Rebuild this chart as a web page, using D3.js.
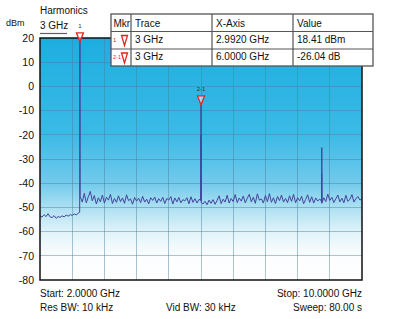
<!DOCTYPE html>
<html lang="en">
<meta charset="utf-8">
<style>
body {
  margin: 0;
  background: #fff;
  font-family: 'Liberation Sans', Arial, sans-serif;
}
.grid line {
  stroke: #4a7c98;
  stroke-opacity: 0.45;
  shape-rendering: crispEdges;
}
.lbl {
  font-size: 10px;
  fill: #111;
}
.tbl text {
  font-size: 10px;
  fill: #111;
}
</style>
<body>
<div id="chart"></div>
<script src="https://d3js.org/d3.v7.min.js"></script>
<script>

// sweep settings (GHz)
var startGHz = 2.0,
    stopGHz = 10.0,
    stepGHz = 0.05;

var yTicks = [20, 10, 0, -10, -20, -30, -40, -50, -60, -70, -80];

// noise floor, one value per 0.05 GHz from 2.00 GHz
var noise = [
  -53.5,-54.0,-53.0,-53.8,-52.6,-53.9,-54.2,-53.4,-54.5,-53.8,-54.1,-53.5,-53.9,-53.2,-53.6,-53.0,-53.3,-52.7,-53.1,-52.4,
  -45.5,-47.8,-44.2,-48.1,-45.6,-43.4,-47.3,-45.1,-48.6,-46.0,-47.7,-44.9,-48.2,-45.8,-47.0,-44.6,-48.4,-46.3,-47.9,-45.2,
  -47.6,-46.1,-48.3,-44.8,-47.2,-46.5,-48.7,-45.9,-47.4,-46.2,-48.0,-45.4,-47.8,-46.6,-48.5,-46.0,-47.1,-45.7,-48.2,-46.4,
  -47.5,-45.8,-48.4,-46.3,-47.0,-45.5,-48.6,-46.1,-47.7,-45.9,-48.1,-46.8,-47.3,-46.0,-48.5,-45.6,-47.9,-46.4,-48.2,-46.7,
  -47.2,-48.6,-47.5,-48.9,-47.0,-48.3,-46.8,-48.7,-47.1,-45.2,-48.4,-46.6,-47.8,-45.0,-48.2,-46.3,-47.6,-44.7,-48.0,-46.1,
  -47.4,-45.3,-48.1,-46.2,-44.6,-47.7,-45.8,-48.3,-44.4,-47.0,-46.5,-48.2,-45.1,-47.6,-44.3,-47.9,-46.0,-48.4,-45.5,-47.2,
  -44.9,-47.8,-46.3,-48.0,-45.2,-47.5,-44.6,-48.1,-46.0,-47.3,-45.4,-48.5,-46.7,-44.8,-47.9,-45.6,-48.2,-46.1,-47.4,-46.5,
  -48.3,-46.0,-47.6,-44.5,-47.1,-45.8,-48.0,-46.4,-44.9,-47.7,-46.2,-48.1,-45.0,-47.5,-46.6,-44.7,-47.8,-46.3,-45.5,-47.0,
  -46.2
];

// harmonic spikes [GHz, dBm]
var peakPoints = [
  [2.986, -52.0], [2.990, -12.0], [2.992, 18.41], [2.995, -14.0], [2.998, -45.0],
  [5.994, -47.0], [5.998, -20.0], [6.000, -7.63], [6.003, -22.0], [6.006, -48.0],
  [8.994, -47.5], [8.998, -36.0], [9.000, -25.3], [9.003, -38.0], [9.006, -48.0]
];

// marker table
var tableHead = ["Mkr", "Trace", "X-Axis", "Value"];
var tableRows = [
  ["1", "3 GHz", "2.9920 GHz", "18.41 dBm"],
  ["2-1", "3 GHz", "6.0000 GHz", "-26.04 dB"]
];
var markers = [
  {label: "1", f: 2.992, db: 18.41},
  {label: "2-1", f: 6.000, db: -7.63}
];

var width = 400,
    height = 319;

var x = d3.scaleLinear().domain([startGHz, stopGHz]).range([40, 362]);
var y = d3.scaleLinear().domain([-80, 20]).range([280, 38]);

var svg = d3.select("#chart").append("svg")
    .attr("width", width)
    .attr("height", height);

// background gradient
var grad = svg.append("defs").append("linearGradient")
    .attr("id", "bg")
    .attr("x1", 0).attr("y1", 0).attr("x2", 0).attr("y2", 1);
[[0, "#1caee0"], [0.4, "#3cbae6"], [0.6, "#72caec"], [0.7, "#ace0f2"], [0.8, "#e0f3f9"], [0.9, "#fbfdfe"], [1, "#ffffff"]]
  .forEach(function(s) {
    grad.append("stop").attr("offset", s[0]).attr("stop-color", s[1]);
  });

svg.append("rect")
    .attr("x", x(startGHz)).attr("y", y(20))
    .attr("width", x(stopGHz) - x(startGHz))
    .attr("height", y(-80) - y(20))
    .attr("fill", "url(#bg)");

// grid
var grid = svg.append("g").attr("class", "grid");
grid.selectAll(".v")
    .data(d3.range(1, 10))
  .enter().append("line")
    .attr("x1", function(d) { return x(startGHz + d * 0.8); })
    .attr("x2", function(d) { return x(startGHz + d * 0.8); })
    .attr("y1", y(20)).attr("y2", y(-80));
grid.selectAll(".h")
    .data(yTicks.slice(1, -1))
  .enter().append("line")
    .attr("x1", x(startGHz)).attr("x2", x(stopGHz))
    .attr("y1", function(d) { return y(d); })
    .attr("y2", function(d) { return y(d); });

// trace
var trace = noise.map(function(v, i) { return [startGHz + i * stepGHz, v]; })
    .concat(peakPoints)
    .sort(function(a, b) { return a[0] - b[0]; });

svg.append("path")
    .datum(trace)
    .attr("fill", "none")
    .attr("stroke", "#44449a")
    .attr("stroke-width", 1)
    .attr("stroke-linejoin", "round")
    .attr("d", d3.line()
      .x(function(d) { return x(d[0]); })
      .y(function(d) { return y(d[1]); }));

// frame
svg.append("rect")
    .attr("x", x(startGHz)).attr("y", y(20))
    .attr("width", x(stopGHz) - x(startGHz))
    .attr("height", y(-80) - y(20))
    .attr("fill", "none")
    .attr("stroke", "#111")
    .attr("stroke-width", 1.5);

// y labels
svg.append("g").selectAll("text")
    .data(yTicks)
  .enter().append("text")
    .attr("class", "lbl")
    .attr("x", 34)
    .attr("y", function(d) { return y(d); })
    .attr("dy", "0.36em")
    .attr("text-anchor", "end")
    .style("font-size", "10.5px")
    .text(function(d) { return d; });

svg.append("text").attr("class", "lbl").attr("x", 6).attr("y", 26).style("font-size", "9px").text("dBm");
svg.append("text").attr("class", "lbl").attr("x", 40).attr("y", 14).text("Harmonics");
svg.append("text").attr("class", "lbl").attr("x", 40).attr("y", 29).text("3 GHz");
svg.append("line")
    .attr("x1", 40).attr("x2", 67).attr("y1", 33.5).attr("y2", 33.5)
    .attr("stroke", "#5a58a6").attr("stroke-width", 1.2);

// markers on the trace
var mk = svg.append("g").selectAll("g")
    .data(markers)
  .enter().append("g")
    .attr("transform", function(d) { return "translate(" + x(d.f) + "," + y(d.db) + ")"; });
mk.append("path")
    .attr("d", "M0,0 L-3.5,-9 L3.5,-9 Z")
    .attr("fill", "#fff").attr("fill-opacity", 0.55)
    .attr("stroke", "#e8231d").attr("stroke-width", 1.3);
mk.append("text")
    .attr("y", -14)
    .attr("text-anchor", "middle")
    .style("font-size", "6px")
    .style("fill", "#333")
    .text(function(d) { return d.label; });

// marker table
var colX = [111, 131, 212, 293, 373],
    rowY = [14, 31.5, 49, 66],
    rowBase = [26.6, 43.3, 60];
var tbl = svg.append("g").attr("class", "tbl");
tbl.append("rect")
    .attr("x", colX[0]).attr("y", rowY[0])
    .attr("width", colX[4] - colX[0]).attr("height", rowY[3] - rowY[0])
    .attr("fill", "#fff").attr("stroke", "#555").attr("stroke-width", 1.3);
colX.slice(1, 4).forEach(function(cx) {
  tbl.append("line").attr("x1", cx).attr("x2", cx).attr("y1", rowY[0]).attr("y2", rowY[3])
    .attr("stroke", "#555").attr("stroke-width", 1.2);
});
rowY.slice(1, 3).forEach(function(ry) {
  tbl.append("line").attr("x1", colX[0]).attr("x2", colX[4]).attr("y1", ry).attr("y2", ry)
    .attr("stroke", "#555").attr("stroke-width", 1.2);
});
tableHead.forEach(function(h, i) {
  tbl.append("text").attr("x", colX[i] + (i ? 4 : 2.5)).attr("y", rowBase[0]).text(h);
});
tableRows.forEach(function(r, j) {
  var ty = rowBase[j + 1];
  tbl.append("text").attr("x", colX[0] + 2).attr("y", ty - 1)
    .style("font-size", r[0].length > 1 ? "5.5px" : "6px").style("fill", "#e8231d").text(r[0]);
  var tx = colX[0] + 13.5, ty0 = rowY[j + 1] + 4;
  tbl.append("path")
    .attr("d", "M" + tx + "," + (ty0 + 10) + " L" + (tx - 3) + "," + ty0 + " L" + (tx + 3) + "," + ty0 + " Z")
    .attr("fill", "#fff").attr("stroke", "#e8231d").attr("stroke-width", 1.3);
  for (var i = 1; i < 4; i++) {
    tbl.append("text").attr("x", colX[i] + 4).attr("y", ty).text(r[i]);
  }
});

// footer
svg.append("text").attr("class", "lbl").attr("x", 40).attr("y", 297).text("Start: 2.0000 GHz");
svg.append("text").attr("class", "lbl").attr("x", 40).attr("y", 311).text("Res BW: 10 kHz");
svg.append("text").attr("class", "lbl").attr("x", 166).attr("y", 311).text("Vid BW: 30 kHz");
svg.append("text").attr("class", "lbl").attr("x", 362).attr("y", 297).attr("text-anchor", "end").text("Stop: 10.0000 GHz");
svg.append("text").attr("class", "lbl").attr("x", 362).attr("y", 311).attr("text-anchor", "end").text("Sweep: 80.00 s");

</script>
</body>
</html>
